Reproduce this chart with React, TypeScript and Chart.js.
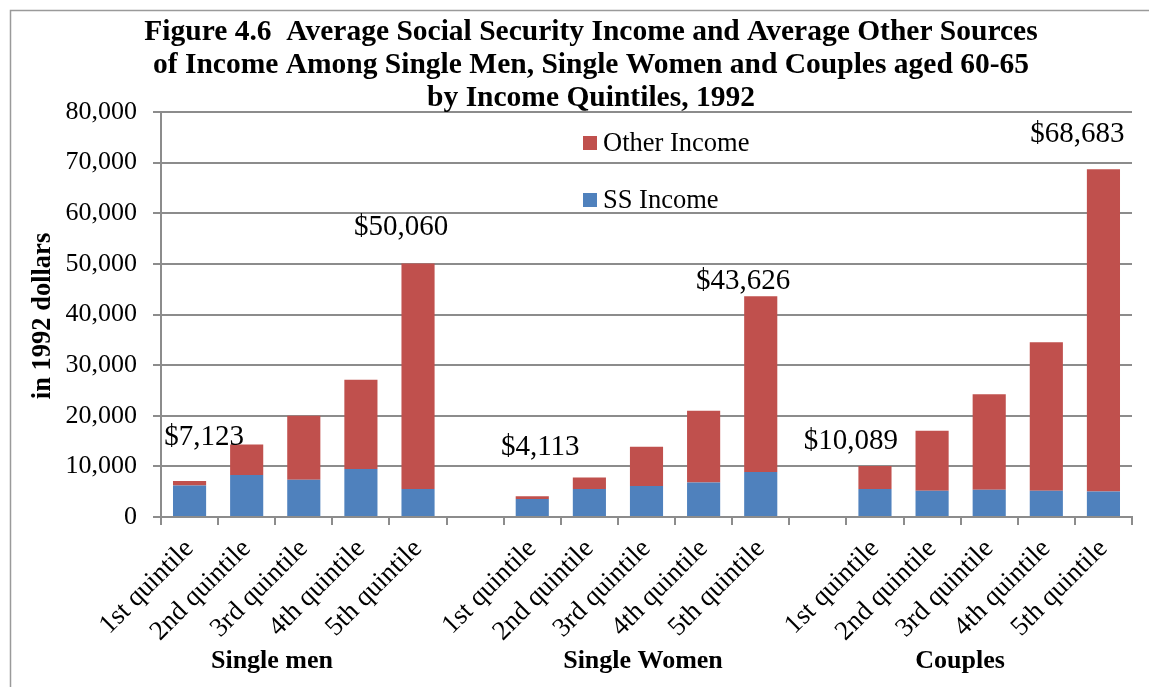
import React, { useEffect, useRef } from "react";
import { Chart, registerables } from "chart.js";

Chart.register(...registerables);

// ---- Data ----
const categories = [
  "1st quintile", "2nd quintile", "3rd quintile", "4th quintile", "5th quintile",
  "",
  "1st quintile", "2nd quintile", "3rd quintile", "4th quintile", "5th quintile",
  "",
  "1st quintile", "2nd quintile", "3rd quintile", "4th quintile", "5th quintile",
];

const ssIncome = [
  6230, 8280, 7360, 9470, 5520,
  null,
  3550, 5520, 6110, 6830, 8880,
  null,
  5520, 5190, 5380, 5190, 5050,
];

const otherIncome = [
  893, 6040, 12640, 17630, 44540,
  null,
  563, 2290, 7760, 14140, 34746,
  null,
  4569, 11830, 18880, 29330, 63633,
];

const totalLabels = [
  "$7,123", null, null, null, "$50,060",
  null,
  "$4,113", null, null, null, "$43,626",
  null,
  "$10,089", null, null, null, "$68,683",
];

const groupNames = ["Single men", "Single Women", "Couples"];

const titleLines = [
  "Figure 4.6  Average Social Security Income and Average Other Sources",
  "of Income Among Single Men, Single Women and Couples aged 60-65",
  "by Income Quintiles, 1992",
];

const yAxisTitle = "in 1992 dollars";
const seriesNames = ["SS Income", "Other Income"];

// ---- Layout / style ----
const SERIF = "'Liberation Serif', 'Times New Roman', serif";
const RED = "#C0504D";
const BLUE = "#4F81BD";
const GRID = "#8c8c8c";

// offsets of the total labels from the top of their bar (px)
const labelOffsets: Record<number, [number, number]> = {
  0: [14.5, -44],
  4: [-17, -36],
  6: [8, -49],
  10: [-17.5, -15],
  12: [-24, -24.5],
  16: [-26, -34.6],
};
const groupLabelX = [272, 643, 960];

const decorPlugin = {
  id: "decor",
  beforeDraw(chart: any) {
    const ctx = chart.ctx as CanvasRenderingContext2D;
    ctx.save();
    ctx.strokeStyle = "#9a9a9a";
    ctx.lineWidth = 1.5;
    ctx.strokeRect(10.5, 10.5, 1400, 900);
    ctx.restore();
  },
  afterDraw(chart: any) {
    const ctx = chart.ctx as CanvasRenderingContext2D;
    ctx.save();
    ctx.fillStyle = "#000";

    // Title
    ctx.font = `bold 29.5px ${SERIF}`;
    ctx.textAlign = "center";
    ctx.textBaseline = "middle";
    titleLines.forEach((t, i) => ctx.fillText(t, 591, 32 + i * 33));

    // Y axis title
    ctx.save();
    ctx.translate(43, 316);
    ctx.rotate(-Math.PI / 2);
    ctx.font = `bold 26.5px ${SERIF}`;
    ctx.fillText(yAxisTitle, 0, 0);
    ctx.restore();

    // Legend
    ctx.font = `26.5px ${SERIF}`;
    ctx.textAlign = "left";
    ctx.textBaseline = "alphabetic";
    ctx.fillStyle = RED;
    ctx.fillRect(583, 136, 14, 14);
    ctx.fillStyle = "#000";
    ctx.fillText(seriesNames[1], 603, 151);
    ctx.fillStyle = BLUE;
    ctx.fillRect(583, 193, 14, 14);
    ctx.fillStyle = "#000";
    ctx.fillText(seriesNames[0], 603, 208);

    // Group labels
    ctx.font = `bold 26px ${SERIF}`;
    ctx.textAlign = "center";
    ctx.textBaseline = "middle";
    groupNames.forEach((g, i) => ctx.fillText(g, groupLabelX[i], 661));

    // Total labels
    const meta = chart.getDatasetMeta(1);
    ctx.font = `29px ${SERIF}`;
    totalLabels.forEach((lbl, i) => {
      if (!lbl) return;
      const el = meta.data[i];
      const off = labelOffsets[i] || [0, -20];
      ctx.fillText(lbl, el.x + off[0], el.y + off[1]);
    });

    ctx.restore();
  },
};

export default function App() {
  const ref = useRef<HTMLCanvasElement | null>(null);

  useEffect(() => {
    if (!ref.current) return;
    const chart = new Chart(ref.current, {
      type: "bar",
      data: {
        labels: categories,
        datasets: [
          {
            label: seriesNames[0],
            data: ssIncome as any,
            backgroundColor: BLUE,
            borderWidth: 0,
          },
          {
            label: seriesNames[1],
            data: otherIncome as any,
            backgroundColor: RED,
            borderWidth: 0,
          },
        ],
      },
      options: {
        responsive: false,
        animation: false,
        devicePixelRatio: 1,
        layout: { padding: { top: 112, right: 17, left: 0, bottom: 0 } },
        datasets: { bar: { categoryPercentage: 1, barPercentage: 0.58 } },
        plugins: {
          legend: { display: false },
          title: { display: false },
          tooltip: { enabled: false },
        },
        scales: {
          x: {
            stacked: true,
            grid: {
              offset: true,
              drawOnChartArea: false,
              drawTicks: true,
              tickLength: 8,
              color: GRID,
              lineWidth: 2,
            },
            border: { color: GRID, width: 2 },
            ticks: {
              autoSkip: false,
              minRotation: 45,
              maxRotation: 45,
              color: "#000",
              padding: 8,
              font: { family: SERIF, size: 27 },
            },
            afterFit(scale: any) {
              scale.height = 170;
            },
          },
          y: {
            stacked: true,
            min: 0,
            max: 80000,
            ticks: {
              stepSize: 10000,
              color: "#000",
              padding: 16,
              font: { family: SERIF, size: 26 },
              callback: (v: any) => Number(v).toLocaleString("en-US"),
            },
            grid: { color: GRID, lineWidth: 2, tickLength: 8 },
            border: { color: GRID, width: 2 },
            afterFit(scale: any) {
              scale.width = 161;
            },
          },
        },
      },
      plugins: [decorPlugin],
    });
    return () => chart.destroy();
  }, []);

  return (
    <div style={{ position: "absolute", left: 0, top: 0, width: 1149, height: 687, background: "#fff" }}>
      <canvas ref={ref} width={1149} height={687} style={{ display: "block" }} />
    </div>
  );
}
